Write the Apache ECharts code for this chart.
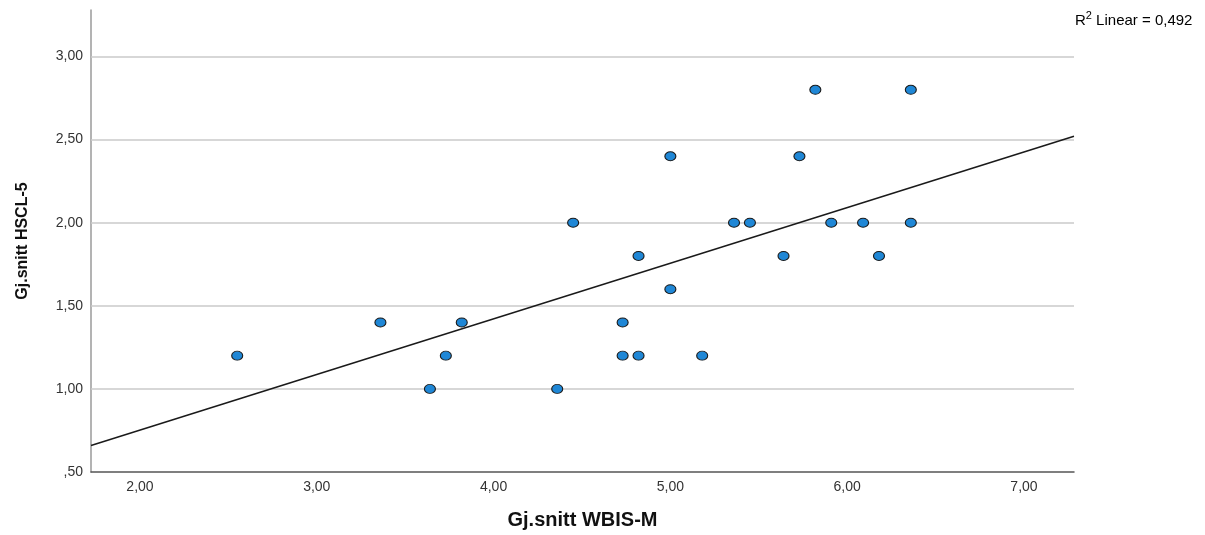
<!DOCTYPE html>
<html>
<head>
<meta charset="utf-8">
<script src="https://cdn.jsdelivr.net/npm/echarts@6/dist/echarts.min.js"></script>
<style>
  html, body { margin: 0; padding: 0; background: #fff; }
  #chart { width: 1205px; height: 535px; }
</style>
</head>
<body>
<div id="chart"></div>
<script>
// observed points: WBIS-M mean (x) vs HSCL-5 mean (y)
const wbis = [2.55, 3.36, 3.64, 3.73, 3.82, 4.36, 4.45, 4.73, 4.73, 4.82, 4.82, 5.00,
              5.00, 5.18, 5.36, 5.45, 5.64, 5.73, 5.82, 5.91, 6.09, 6.18, 6.36, 6.36];
const hscl = [1.20, 1.40, 1.00, 1.20, 1.40, 1.00, 2.00, 1.40, 1.20, 1.20, 1.80, 1.60,
              2.40, 1.20, 2.00, 2.00, 1.80, 2.40, 2.80, 2.00, 2.00, 1.80, 2.80, 2.00];

// fit line end points (read at the plot edges)
const fitX = [1.723, 7.283];
const fitY = [0.66, 2.52];

const yGrid = [1.0, 1.5, 2.0, 2.5, 3.0];
const rSquared = '0,492';

const points = wbis.map((x, i) => [x, hscl[i]]);
const fitLine = fitX.map((x, i) => [x, fitY[i]]);

function fmt(v, step) {
  if (Math.abs(v / step - Math.round(v / step)) > 1e-6) return '';
  let s = v.toFixed(2).replace('.', ',');
  if (s.startsWith('0,')) s = s.slice(1);
  return s;
}

const chart = echarts.init(document.getElementById('chart'));
const font = 'Liberation Sans, Arial, sans-serif';

chart.setOption({
  backgroundColor: '#fff',
  animation: false,
  grid: { left: 91, right: 131, top: 10, bottom: 61 },
  xAxis: {
    type: 'value',
    min: fitX[0],
    max: fitX[1],
    name: 'Gj.snitt WBIS-M',
    nameLocation: 'middle',
    nameGap: 38,
    nameTextStyle: { fontFamily: font, fontSize: 20, fontWeight: 'bold', color: '#111' },
    axisLine: { onZero: false, lineStyle: { color: '#555', width: 1.5 } },
    axisTick: { show: false },
    splitLine: { show: false },
    axisLabel: {
      showMinLabel: false, showMaxLabel: false,
      margin: 8, fontFamily: font, fontSize: 14, color: '#333',
      formatter: v => fmt(v, 1)
    }
  },
  yAxis: {
    type: 'value',
    min: 0.5,
    max: 3.28,
    name: 'Gj.snitt HSCL-5',
    nameLocation: 'middle',
    nameGap: 60,
    nameTextStyle: { fontFamily: font, fontSize: 16, fontWeight: 'bold', color: '#111' },
    axisLine: { onZero: false, lineStyle: { color: '#9a9a9a', width: 1.5 } },
    axisTick: { show: false },
    splitLine: { show: false },
    axisLabel: {
      showMaxLabel: false,
      margin: 8, fontFamily: font, fontSize: 14, color: '#333',
      formatter: v => fmt(v, 0.5)
    }
  },
  graphic: [{
    type: 'text',
    left: 1075,
    top: 10,
    style: {
      text: '{n|R}{s|2}{n| Linear = ' + rSquared + '}',
      rich: {
        n: { fontFamily: font, fontSize: 15, color: '#222', verticalAlign: 'bottom' },
        s: { fontFamily: font, fontSize: 11, color: '#222', verticalAlign: 'top', padding: [0, 0, 7, 0] }
      }
    }
  }],
  series: [
    {
      name: 'grid',
      type: 'line',
      data: [],
      z: 1,
      silent: true,
      markLine: {
        silent: true,
        z: 1,
        symbol: 'none',
        label: { show: false },
        lineStyle: { color: '#cacaca', width: 1.5, type: 'solid' },
        data: yGrid.map(v => ({ yAxis: v }))
      }
    },
    {
      name: 'Linear',
      type: 'line',
      data: fitLine,
      z: 2,
      showSymbol: false,
      lineStyle: { color: '#1a1a1a', width: 1.5 }
    },
    {
      name: 'points',
      type: 'scatter',
      data: points,
      z: 10,
      symbol: 'circle',
      symbolSize: [11, 9],
      itemStyle: { color: '#1f87d6', borderColor: '#1a1a1a', borderWidth: 1, opacity: 1 }
    }
  ]
});
</script>
</body>
</html>
